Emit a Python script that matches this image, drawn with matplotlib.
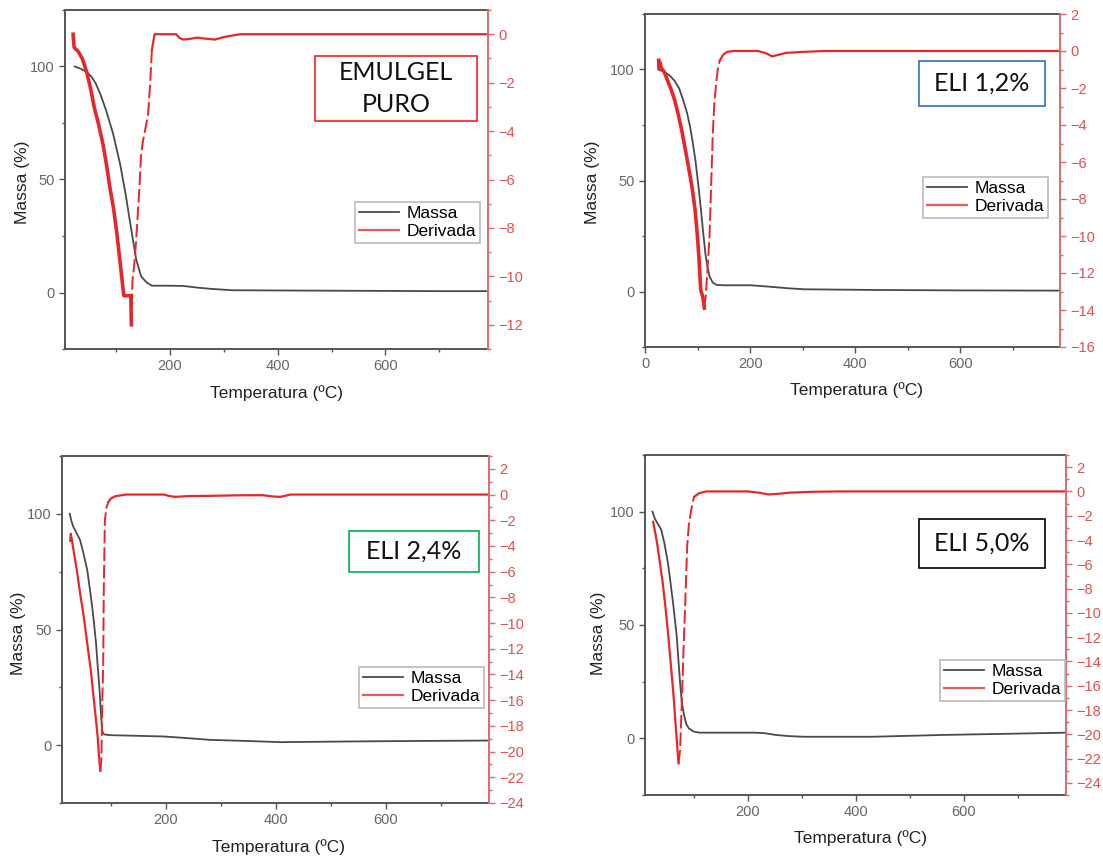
import numpy as np
import matplotlib
matplotlib.use("Agg")
import matplotlib.pyplot as plt
from matplotlib.patches import Rectangle
from matplotlib.lines import Line2D
from matplotlib.ticker import MultipleLocator

plt.rcParams['font.family'] = ['Liberation Sans', 'DejaVu Sans']

W, H = 1103, 858

# EMULGEL PURO
t_massa_1 = [24, 35, 46, 55, 63, 72, 82, 95, 108, 118, 128, 138, 147, 157, 167, 200, 225, 250, 277, 316, 400, 500, 600, 700, 790]
massa_1 = [100, 99, 97.6, 95.5, 92.5, 87.5, 80.7, 70.4, 57, 44, 29, 14.6, 7.2, 4.5, 3.0, 3.0, 2.9, 2.2, 1.6, 1.0, 0.9, 0.8, 0.7, 0.6, 0.6]
t_deriv_1 = [21, 22, 23, 30, 38, 46, 53, 60, 68, 76, 83, 89, 96, 102, 107, 112, 115, 118, 124, 128, 129, 131, 134, 137.6, 141, 144, 147, 150.6, 155, 160, 164, 167, 172, 190, 212, 218, 225, 235, 251, 265, 284, 300, 330, 450, 790]
deriv_1 = [0, -0.3, -0.55, -0.7, -1.0, -1.55, -2.2, -3.0, -3.7, -4.5, -5.4, -6.3, -7.2, -8.2, -9.2, -10.2, -10.8, -10.8, -10.8, -10.8, -12.0, -10.2, -9.6, -8.6, -7.4, -6.3, -5.0, -4.4, -3.9, -3.3, -2.0, -0.66, 0, 0, 0, -0.15, -0.22, -0.2, -0.14, -0.18, -0.22, -0.12, 0, 0, 0]

# ELI 1,2%
t_massa_2 = [25, 36, 46, 56, 65, 73, 80, 86, 91, 96, 101, 106, 111, 115, 119, 123, 129, 136, 150, 202, 235, 270, 302, 434, 600, 790]
massa_2 = [100, 99, 97.5, 95, 91.5, 86, 80.5, 74, 67, 59, 49, 38, 26, 17, 11, 6.7, 4, 3, 2.8, 2.8, 2.2, 1.5, 1.0, 0.7, 0.5, 0.4]
t_deriv_2 = [26, 27, 28, 31, 36.5, 43, 50, 57, 63, 70, 76, 83, 89.5, 95, 99.5, 103, 106, 110, 113, 116, 119, 123, 126, 129, 132, 136, 139, 142.6, 149, 156, 169, 215, 230, 242, 255, 268.6, 300, 341.5, 790]
deriv_2 = [-0.5, -0.9, -0.6, -0.9, -1.13, -1.6, -2.1, -2.7, -3.4, -4.3, -5.2, -6.3, -7.35, -8.5, -9.9, -11.3, -12.9, -13.3, -13.9, -13.1, -11.8, -9.9, -7.2, -4.5, -2.8, -1.6, -0.9, -0.5, -0.2, -0.05, 0, 0, -0.12, -0.29, -0.2, -0.1, -0.05, 0, 0]

# ELI 2,4%
t_massa_3 = [25, 28, 31.6, 38, 44, 50, 57, 62, 66.7, 70, 73, 76, 79.4, 82, 84, 86, 89, 100, 121, 197, 230, 280, 350, 408, 535, 650, 788]
massa_3 = [100, 97, 94.4, 91.5, 88.6, 83, 75.6, 67, 58.3, 51, 43.9, 34, 23.7, 13, 6.3, 5.0, 4.6, 4.3, 4.2, 3.75, 3.2, 2.3, 1.8, 1.3, 1.6, 1.8, 2.0]
t_deriv_3 = [26, 27, 28.4, 33, 38, 44, 50.7, 57, 63.5, 68, 73, 76, 78, 80.7, 82.6, 84.5, 86, 87, 89, 92, 95.5, 100, 108, 127, 197, 205, 216.6, 240, 280, 330, 376, 395, 408, 427, 790]
deriv_3 = [-3.6, -3.05, -3.4, -4.6, -5.9, -7.7, -9.55, -11.6, -13.7, -15.6, -17.6, -18.9, -20.2, -21.5, -20.7, -15.8, -13.2, -7.5, -2.0, -1.0, -0.57, -0.3, -0.13, 0, 0, -0.1, -0.18, -0.12, -0.1, -0.06, -0.05, -0.15, -0.18, 0, 0]

# ELI 5,0%
t_massa_4 = [23.8, 28, 34, 40, 46, 52.7, 57, 62, 65.5, 68.8, 72, 75, 78, 81.7, 86, 91, 100, 110.6, 213.5, 230, 252, 275, 303.5, 432, 560.8, 680, 789]
massa_4 = [100, 97, 94.5, 92, 86, 77, 69, 59.6, 52, 44.9, 34, 24.3, 16, 11, 6.5, 4.4, 3.0, 2.5, 2.5, 2.3, 1.5, 1.0, 0.7, 0.7, 1.5, 2.0, 2.5]
t_deriv_4 = [25, 29, 33.4, 38, 43, 48, 52.7, 57.5, 62.4, 66, 68.8, 72, 75, 78.5, 81, 83.6, 86, 88, 91, 94.5, 98, 101, 110, 123.5, 200.6, 220, 239, 255, 278, 320, 368, 789]
deriv_4 = [-2.5, -3.4, -4.56, -6.0, -7.6, -9.6, -11.7, -14.1, -16.6, -18.8, -20.5, -22.4, -21.3, -16.9, -13.4, -10.3, -7.2, -4.56, -2.8, -1.8, -0.9, -0.44, -0.15, 0, 0, -0.1, -0.25, -0.2, -0.1, -0.03, 0, 0]

titles = ["EMULGEL\nPURO", "ELI 1,2%", "ELI 2,4%", "ELI 5,0%"]
title_colors = ["#ff1a1a", "#2e75b6", "#00b050", "#000000"]

fig = plt.figure(figsize=(W / 100, H / 100), dpi=100)

# layout in pixels: axes frame, title box, legend box, label centres
panels = [
    dict(frame=(65, 10, 488, 349), xlim=(6, 790), ylim2=(-13, 1),
         tbox=(315, 56, 477, 121), leg=(355, 202), ylab=(23, 182), xlab=(277, 393),
         lw=2.6, data=(t_massa_1, massa_1, t_deriv_1, deriv_1)),
    dict(frame=(645, 14, 1060, 347), xlim=(0, 790), ylim2=(-16, 2),
         tbox=(919, 61, 1045, 106), leg=(923, 177), ylab=(593, 182), xlab=(856, 390),
         lw=2.6, data=(t_massa_2, massa_2, t_deriv_2, deriv_2)),
    dict(frame=(62, 456, 489, 803), xlim=(11, 788), ylim2=(-24, 3),
         tbox=(349, 531, 479, 572), leg=(359, 667), ylab=(19, 633), xlab=(278, 847),
         lw=1.6, data=(t_massa_3, massa_3, t_deriv_3, deriv_3)),
    dict(frame=(645, 455, 1066, 795), xlim=(10, 789), ylim2=(-25, 3),
         tbox=(919, 519, 1045, 568), leg=(940, 660), ylab=(599, 633), xlab=(860, 838),
         lw=1.6, data=(t_massa_4, massa_4, t_deriv_4, deriv_4)),
]

grey = "#555555"
red = "#e8262a"
red_axis = "#e06a6a"

for i, p in enumerate(panels):
    x0, y0, x1, y1 = p["frame"]
    ax = fig.add_axes([x0 / W, 1 - y1 / H, (x1 - x0) / W, (y1 - y0) / H])
    ax2 = ax.twinx()
    tm, m, td, d = p["data"]

    ax.plot(tm, m, color="#4a4a4a", lw=1.3)
    # the steep rise after the peak looks broken up in the scan, so dashed
    k = int(np.argmin(d))
    j = k + int(np.argmax(np.array(d[k:]) > -0.7))
    ax2.plot(td[:k + 1], d[:k + 1], color=red, lw=p["lw"])
    ax2.plot(td[k:j + 1], d[k:j + 1], color=red, lw=1.4, ls=(0, (7, 2)))
    ax2.plot(td[j:], d[j:], color=red, lw=1.6)

    ax.set_xlim(p["xlim"])
    ax.set_ylim(-25, 125)
    ax2.set_ylim(p["ylim2"])
    ax.yaxis.set_major_locator(MultipleLocator(50))
    ax.yaxis.set_minor_locator(MultipleLocator(25))
    ax.xaxis.set_major_locator(MultipleLocator(200))
    ax.xaxis.set_minor_locator(MultipleLocator(100))
    ax2.yaxis.set_major_locator(MultipleLocator(2))
    ax2.yaxis.set_minor_locator(MultipleLocator(1))

    for s in ["left", "bottom", "top"]:
        ax.spines[s].set_color(grey)
        ax.spines[s].set_linewidth(1.4)
        ax2.spines[s].set_visible(False)
    ax.spines["right"].set_visible(False)
    ax2.spines["right"].set_color(red_axis)
    ax2.spines["right"].set_linewidth(1.4)

    ax.tick_params(which="major", direction="out", length=4, width=1, color=grey,
                   labelcolor="#666666", labelsize=10.5)
    ax.tick_params(which="minor", direction="out", length=2.5, width=1, color=grey)
    ax2.tick_params(which="major", direction="out", length=4, width=1, color=red_axis,
                    labelcolor="#e05050", labelsize=10.5)
    ax2.tick_params(which="minor", direction="out", length=2.5, width=1, color=red_axis)

    ax.set_ylabel("Massa (%)", fontsize=12.5, color="#222222")
    ax.set_xlabel("Temperatura (ºC)", fontsize=12.5, color="#222222")
    ax.yaxis.label.set_verticalalignment("center")
    ax.xaxis.label.set_verticalalignment("center")
    ax.yaxis.set_label_coords(p["ylab"][0] / W, 1 - p["ylab"][1] / H, transform=fig.transFigure)
    ax.xaxis.set_label_coords(p["xlab"][0] / W, 1 - p["xlab"][1] / H, transform=fig.transFigure)

    handles = [Line2D([], [], color="#4a4a4a", lw=1.3), Line2D([], [], color="#e85a5a", lw=1.6)]
    leg = ax2.legend(handles, ["Massa", "Derivada"], loc="upper left",
                     bbox_to_anchor=(p["leg"][0] / W, 1 - p["leg"][1] / H),
                     bbox_transform=fig.transFigure, borderaxespad=0, borderpad=0.25,
                     handlelength=2.3, handletextpad=0.4, labelspacing=0.12,
                     fontsize=12.5, fancybox=False, framealpha=1, edgecolor="#bbbbbb")
    leg.get_frame().set_linewidth(1.2)

    bx0, by0, bx1, by1 = p["tbox"]
    fig.add_artist(Rectangle((bx0 / W, 1 - by1 / H), (bx1 - bx0) / W, (by1 - by0) / H,
                             transform=fig.transFigure, fill=True, facecolor="white",
                             edgecolor=title_colors[i], lw=1.2, zorder=5))
    fig.text((bx0 + bx1) / 2 / W, 1 - (by0 + by1) / 2 / H, titles[i], ha="center", va="center",
             fontsize=18, family=["Lato", "DejaVu Sans"], color="#111111",
             linespacing=1.45, zorder=6)

fig.savefig("out.png", dpi=100)
